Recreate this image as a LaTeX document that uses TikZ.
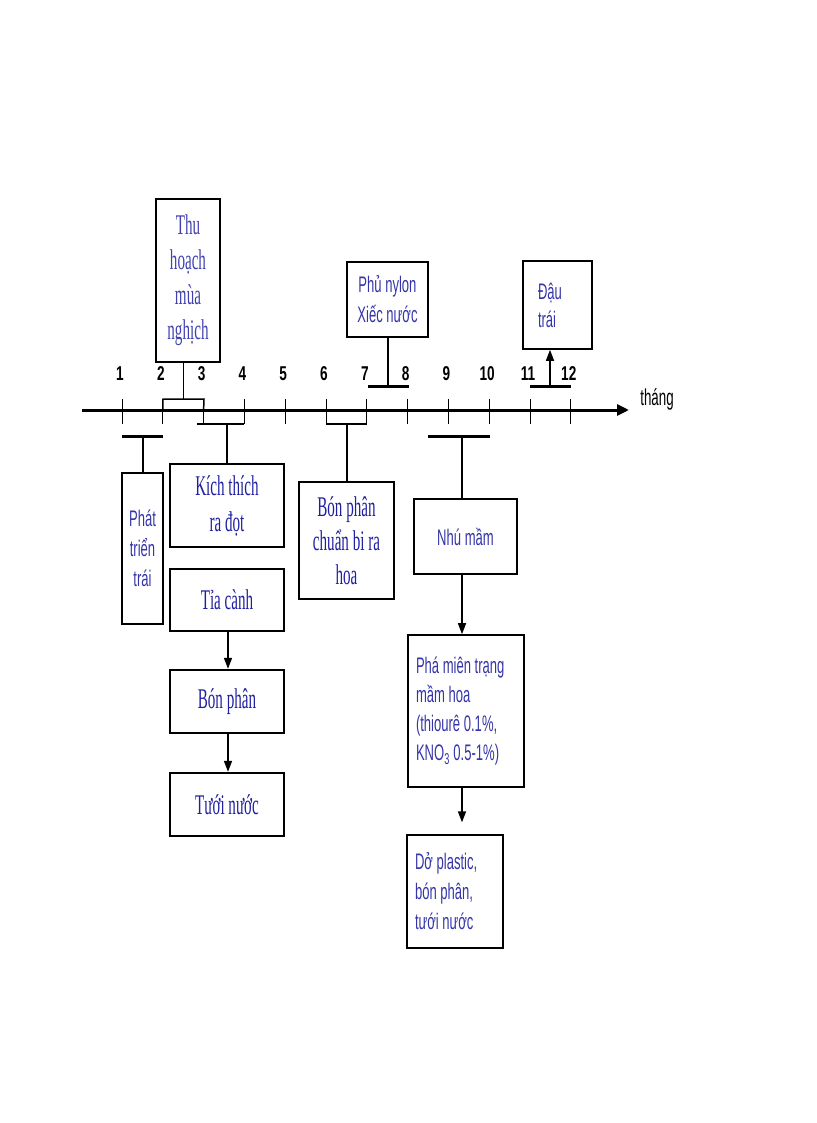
\documentclass[tikz,border=0pt]{standalone}
\usepackage{fontspec}
\usetikzlibrary{arrows.meta}
\newfontfamily\svn[FakeStretch=0.53]{Liberation Serif}
\newfontfamily\ssn[FakeStretch=0.58]{Liberation Sans}
\newfontfamily\snum[FakeStretch=0.68]{Liberation Sans}
\definecolor{serblue}{HTML}{1F1FA0}
\definecolor{thublue}{HTML}{4040B0}
\definecolor{sanblue}{HTML}{3535A8}
\tikzset{
  box/.style={draw, line width=1.6pt, inner sep=0pt, align=center},
  heavybox/.style={draw, line width=2.4pt, inner sep=0pt, align=center},
  sertext/.style={font=\svn\fontsize{28.5}{36}\selectfont, text=serblue},
  thutext/.style={font=\svn\fontsize{28.5}{35}\selectfont, text=thublue},
  santext/.style={font=\ssn\fontsize{22.5}{30}\selectfont, text=sanblue},
  num/.style={font=\snum\bfseries\fontsize{20}{20}\selectfont, inner sep=0pt},
  conn/.style={line width=1.5pt},
  bar/.style={line width=3pt},
  tick/.style={line width=0.9pt},
  arr/.style={line width=1.5pt, -{Triangle[length=11pt,width=8pt]}},
}
\begin{document}
\begin{tikzpicture}[x=1pt,y=-1pt]
\useasboundingbox (0,0) rectangle (816,1123);
% axis
\coordinate (axL) at (82,410);
\coordinate (axR) at (629,410);
\draw[line width=3pt, -{Triangle[length=12pt,width=11pt]}] (axL) -- (axR);
\foreach \i in {1,...,12}{
  \pgfmathsetmacro{\xx}{122+40.8*(\i-1)}
  \coordinate (tk\i) at (\xx,410);
  \draw[tick] (\xx,399) -- (\xx,424);
  \node[num] (n\i) at (\xx-2,374) {\i};
}
\node[font=\ssn\fontsize{23}{23}\selectfont, inner sep=0pt] (thang) at (657,399) {tháng};

% boxes
\node[box, minimum width=64pt, minimum height=163pt, thutext] (thu) at (188,280.5) {Thu\\hoạch\\mùa\\nghịch};
\node[heavybox, minimum width=114pt, minimum height=83pt, sertext] (kich) at (227,505.5) {Kích thích\\ra đọt};
\node[heavybox, minimum width=114pt, minimum height=62pt, sertext] (tia) at (227,600) {Tỉa cành};
\node[heavybox, minimum width=114pt, minimum height=63pt, sertext] (bon) at (227,701.5) {Bón phân};
\node[heavybox, minimum width=114pt, minimum height=63pt, sertext] (tuoi) at (227,804.5) {Tưới nước};
\node[box, minimum width=95pt, minimum height=117pt, font=\svn\fontsize{28.5}{34}\selectfont, text=serblue] (bpc) at (346.5,540.5) {Bón phân\\chuẩn bi ra\\hoa};
\node[box, line width=1.3pt, minimum width=41pt, minimum height=151pt, santext] (phat) at (142.5,548.5) {Phát\\triển\\trái};
\node[box, minimum width=81pt, minimum height=75pt, santext] (phu) at (387.5,299.5) {Phủ nylon\\Xiếc nước};
\node[box, minimum width=69pt, minimum height=88pt, font=\ssn\fontsize{22.5}{28}\selectfont, text=sanblue, text width=39pt, align=flush left, inner xsep=15pt] (dau) at (557.5,305) {Đậu\\trái};
\node[box, minimum width=103pt, minimum height=75pt, santext] (nhu) at (465.5,536.5) {Nhú mầm};
\node[box, minimum width=116pt, minimum height=152pt, font=\ssn\fontsize{22.5}{29}\selectfont, text=sanblue, text width=100pt, align=flush left, inner xsep=8pt] (pha) at (466,711) {Phá miên trạng\\mầm hoa\\(thiourê 0.1\%,\\KNO\textsubscript{3} 0.5-1\%)};
\node[box, line width=1.3pt, minimum width=96pt, minimum height=113pt, font=\ssn\fontsize{22.5}{30}\selectfont, text=sanblue, text width=80pt, align=flush left, inner xsep=8pt] (do) at (455,891.5) {Dở plastic,\\bón phân,\\tưới nước};

% bracket 2-3 above axis to Thu
\coordinate (b23) at (183.5,399);
\draw[conn] (tk2) -- (163,399) -- (204,399) -- (tk3);
\draw[conn] (b23) -- (b23 |- thu.south);
% bracket 3-4 below axis to Kich
\coordinate (b34) at (227,424);
\draw[conn] (197,424) -- (244.4,424);
\draw[conn] (b34) -- (b34 |- kich.north);
% bracket 6-7 below axis to Bon phan chuan
\coordinate (b67) at (347,424);
\draw[conn] (326.2,424) -- (366.8,424);
\draw[conn] (b67) -- (b67 |- bpc.north);
% bar 1-2 to Phat
\coordinate (b12) at (143,436);
\draw[bar] (122,436) -- (163,436);
\draw[conn] (b12) -- (b12 |- phat.north);
% bar 7-8 to Phu nylon
\coordinate (b78) at (388,386);
\draw[bar] (368,386) -- (408.5,386);
\draw[conn] (b78) -- (b78 |- phu.south);
% bar 11-12 arrow to Dau trai
\coordinate (b1112) at (550,386);
\draw[bar] (530,386) -- (571,386);
\draw[arr] (b1112) -- (b1112 |- dau.south);
% bar 9-10 to Nhu mam
\coordinate (b910) at (462,436);
\draw[bar] (428,436) -- (489.5,436);
\draw[conn] (b910) -- (b910 |- nhu.north);
% arrows right column
\coordinate (rc) at (462,0);
\draw[arr] (rc |- nhu.south) -- (rc |- pha.north);
\draw[arr, shorten >=12pt] (rc |- pha.south) -- (rc |- do.north);
% arrows left column
\coordinate (lc) at (228,0);
\draw[arr] (lc |- tia.south) -- (lc |- bon.north);
\draw[arr] (lc |- bon.south) -- (lc |- tuoi.north);
\end{tikzpicture}
\end{document}
